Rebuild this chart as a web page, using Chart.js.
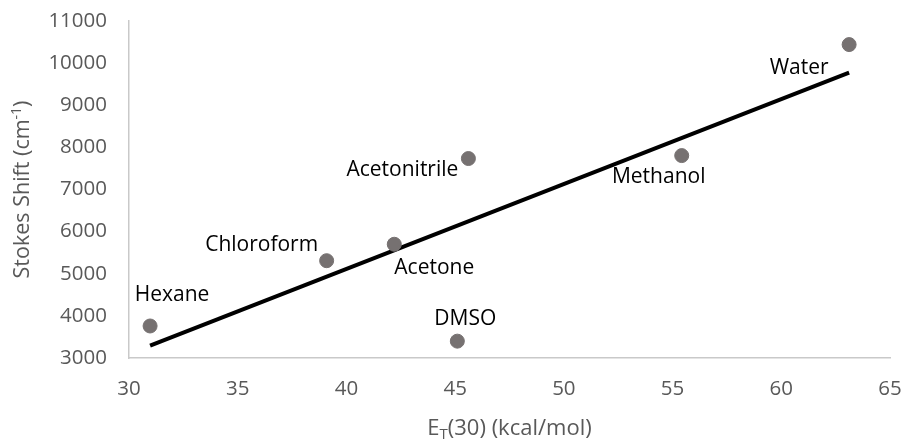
<!DOCTYPE html>
<html>
<head>
<meta charset="utf-8">
<script src="https://cdn.jsdelivr.net/npm/chart.js@4.4.1/dist/chart.umd.min.js"></script>
<style>
  html, body { margin:0; padding:0; background:#fff; }
  #wrap { width:905px; height:442px; }
</style>
</head>
<body>
<div id="wrap"><canvas id="myChart"></canvas></div>
<script>
// values
let solvents = ["Hexane","Chloroform","Acetone","DMSO","Acetonitrile","Methanol","Water"];
let et30 = [30.97, 39.09, 42.2, 45.1, 45.61, 55.42, 63.12];
let stokes = [3760, 5310, 5700, 3400, 7735, 7805, 10440];
let trendX = [30.97, 63.12];
let trendY = [3292, 9777];
let xTicks = [30,35,40,45,50,55,60,65];
let yTicks = [3000,4000,5000,6000,7000,8000,9000,10000,11000];

// where each name sits relative to its dot (dx, dy in px)
let labelOffsets = [[22,-31],[-65,-16],[40,24],[8,-22],[-66,11],[-23,21],[-50,23]];

const FONT = "'Open Sans', sans-serif";
const GREY = "#595959";

let labelPlugin = {
  id:"solventLabels",
  afterDatasetsDraw(chart){
    let ctx = chart.ctx;
    let meta = chart.getDatasetMeta(0);
    ctx.save();
    ctx.font = "21px " + FONT;
    ctx.fillStyle = "#000";
    ctx.textAlign = "center";
    ctx.textBaseline = "middle";
    meta.data.forEach((pt,i)=>{
      ctx.fillText(solvents[i], pt.x + labelOffsets[i][0], pt.y + labelOffsets[i][1]);
    });
    ctx.restore();
  }
};

// axis titles need sub/superscripts, so they are drawn by hand
function drawParts(ctx, parts, cx, cy){
  let total = 0;
  parts.forEach(p=>{ ctx.font = p.size + "px " + FONT; p.w = ctx.measureText(p.t).width; total += p.w; });
  let x = cx - total/2;
  parts.forEach(p=>{
    ctx.font = p.size + "px " + FONT;
    ctx.fillText(p.t, x, cy + (p.dy||0));
    x += p.w;
  });
}
let titlePlugin = {
  id:"axisTitles",
  afterDraw(chart){
    let ctx = chart.ctx, a = chart.chartArea;
    ctx.save();
    ctx.fillStyle = GREY;
    ctx.textAlign = "left";
    ctx.textBaseline = "middle";
    drawParts(ctx, [
      {t:"E", size:22},
      {t:"T", size:15, dy:6},
      {t:"(30) (kcal/mol)", size:22}
    ], (a.left+a.right)/2, 429);
    ctx.translate(23, (a.top+a.bottom)/2);
    ctx.rotate(-Math.PI/2);
    drawParts(ctx, [
      {t:"Stokes Shift (cm", size:21.5},
      {t:"-1", size:14, dy:-6},
      {t:")", size:21.5}
    ], 0, 0);
    ctx.restore();
  }
};

let scatterPts = et30.map((x,i)=>({x:x, y:stokes[i]}));
let trendPts = trendX.map((x,i)=>({x:x, y:trendY[i]}));

let c = document.getElementById("myChart");
let chart = new Chart(c,{
  type:'scatter',
  data:{
    datasets:[{
      label:"Stokes shift",
      data:scatterPts,
      backgroundColor:"#767171",
      borderColor:"#767171",
      pointRadius:7,
      pointHoverRadius:7,
      order:1
    },{
      type:'line',
      label:"Trend",
      data:trendPts,
      borderColor:"#000",
      borderWidth:4,
      pointRadius:0,
      fill:false,
      order:2
    }]
  },
  options:{
    responsive:true,
    maintainAspectRatio:false,
    animation:false,
    layout:{ padding:{ top:21, right:15, left:0, bottom:0 } },
    plugins:{ legend:{display:false}, tooltip:{enabled:false} },
    scales:{
      x:{
        type:'linear',
        min:30, max:65,
        afterBuildTicks: s => { s.ticks = xTicks.map(v=>({value:v})); },
        afterFit: s => { s.height = 84; s.paddingLeft = 0; s.paddingRight = 0; },
        grid:{ display:false, drawTicks:false },
        border:{ color:"#c9c9c9", width:1.5 },
        ticks:{ color:GREY, font:{ family:FONT, size:20.5 }, padding:19, callback: v => String(v) }
      },
      y:{
        type:'linear',
        min:3000, max:11000,
        afterBuildTicks: s => { s.ticks = yTicks.map(v=>({value:v})); },
        afterFit: s => { s.width = 129; s.paddingTop = 0; s.paddingBottom = 0; },
        grid:{ display:false, drawTicks:false },
        border:{ color:"#c9c9c9", width:1.5 },
        ticks:{ color:GREY, font:{ family:FONT, size:20.5 }, padding:22, callback: v => String(v) }
      }
    }
  },
  plugins:[labelPlugin, titlePlugin]
});
</script>
</body>
</html>
